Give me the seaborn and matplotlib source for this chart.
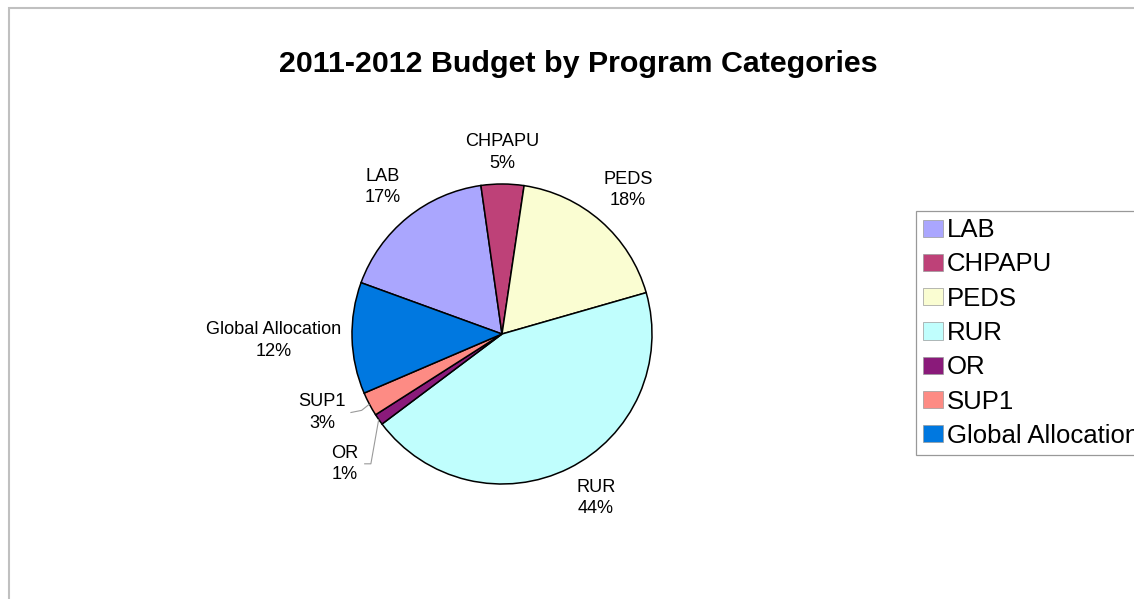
import matplotlib
matplotlib.use("Agg")
import numpy as np
import matplotlib.pyplot as plt
import seaborn as sns
from matplotlib.patches import Rectangle, Patch

# Budget shares (percent) by program category, 2011-2012
categories = ["LAB", "CHPAPU", "PEDS", "RUR", "OR", "SUP1", "Global Allocation"]
shares = [17.2, 4.6, 18.2, 44.2, 1.2, 2.6, 12.0]
slice_colors = ["#aaa6fe", "#be4178", "#fafdd2", "#c0fefd", "#8a1a7a", "#fd8b84", "#0078e0"]

# label placement (radius in pie units, angular nudge in degrees)
label_radius = [1.26, 1.21, 1.275, 1.26, 1.36, 1.31, 1.52]
label_shift = [0.0, 0.0, 0.0, 3.4, 4.8, -4.3, 0.0]
leader = [False, False, False, False, True, True, False]

sns.set_theme(style="white")
plt.rcParams["font.family"] = ["Liberation Sans", "DejaVu Sans"]
plt.rcParams["text.color"] = "black"
palette = sns.color_palette(slice_colors)

FW, FH = 1134, 599
fig = plt.figure(figsize=(FW / 100, FH / 100), dpi=100)
fig.patch.set_facecolor("white")

R_PX = 150
L = 1.7
W = 2 * L * R_PX
cx, cy = 502, FH - 334
ax = fig.add_axes([(cx - W / 2) / FW, (cy - W / 2) / FH, W / FW, W / FH])
wedges, _ = ax.pie(
    shares,
    colors=palette,
    startangle=160,
    counterclock=False,
    radius=1.0,
    wedgeprops=dict(edgecolor="black", linewidth=1.1),
)
ax.set_xlim(-L, L)
ax.set_ylim(-L, L)
ax.set_aspect("equal")
ax.axis("off")

for w, name, val, rl, sh, ld in zip(wedges, categories, shares, label_radius, label_shift, leader):
    mid = np.deg2rad((w.theta1 + w.theta2) / 2)
    ang = mid + np.deg2rad(sh)
    tx, ty = rl * np.cos(ang), rl * np.sin(ang)
    ax.text(tx, ty, f"{name}\n{val:.0f}%", ha="center", va="center",
            fontsize=13.1, color="black", linespacing=1.35)
    if ld:
        ex, ey = np.cos(mid), np.sin(mid)
        if name == "OR":
            endx = tx + 0.13
            pts = [(endx, ty), (endx + 0.045, ty), (ex, ey)]
        else:
            endx = tx + 0.19
            pts = [(endx, ty), (endx + 0.075, ty + 0.015), (ex, ey)]
        xs, ys = zip(*pts)
        ax.plot(xs, ys, color="#9a9a9a", lw=0.8, solid_capstyle="butt")

fig.text(578 / FW, 1 - 64 / FH, "2011-2012 Budget by Program Categories",
         ha="center", va="center", fontsize=21.9, fontweight="bold", color="black")

handles = [Patch(facecolor=c, edgecolor="#9a9a9a", linewidth=0.5) for c in palette]
leg = fig.legend(handles, categories, loc="upper left",
                 bbox_to_anchor=(916 / FW, 1 - 211 / FH), bbox_transform=fig.transFigure,
                 fontsize=18.5, frameon=True, fancybox=False, shadow=False,
                 edgecolor="#999999", framealpha=1, handlelength=0.78, handleheight=0.65,
                 handletextpad=0.13, labelspacing=0.40, borderpad=0.28, borderaxespad=0,
                 labelcolor="black")
leg.get_frame().set_linewidth(0.9)

# outer frame of the chart area
fig.add_artist(Rectangle((8.5 / FW, -0.1), 2, 1.1 - 8.5 / FH, transform=fig.transFigure,
                         fill=False, edgecolor="#c0c0c0", linewidth=1.5))

fig.savefig("out.png", dpi=100, facecolor="white")
